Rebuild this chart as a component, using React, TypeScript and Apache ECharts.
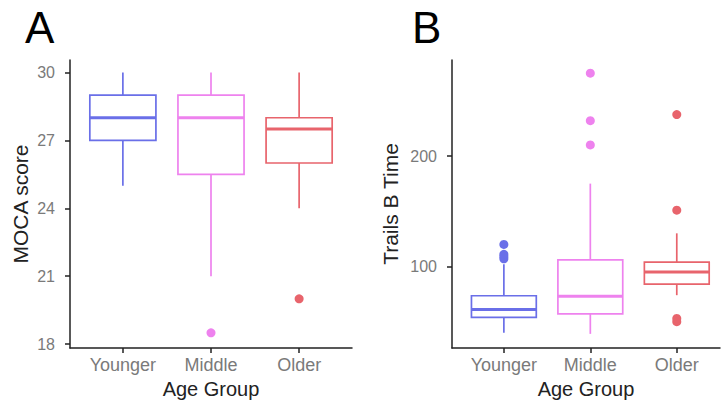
import React, { useEffect, useRef } from 'react';
import * as echarts from 'echarts';

const categories = ['Younger', 'Middle', 'Older'];
const groupColors = ['#6A6FE8', '#EE82EE', '#E8646C'];

// [min whisker, Q1, median, Q3, max whisker]
const mocaBoxes = [
  [25, 27, 28, 29, 30],
  [21, 25.5, 28, 29, 30],
  [24, 26, 27.5, 28, 30],
];
const mocaOutliers = [
  [1, 18.5],
  [2, 20],
];
const mocaTicks = [18, 21, 24, 27, 30];

const trailsBoxes = [
  [40, 54, 61, 73.5, 102],
  [39, 57, 73, 106, 175],
  [74, 84, 95, 104, 130],
];
const trailsOutliers = [
  [0, 107], [0, 109], [0, 111], [0, 120],
  [1, 210], [1, 232], [1, 275],
  [2, 50], [2, 53], [2, 151], [2, 237.5],
];
const trailsTicks = [100, 200];

const FONT = 'Liberation Sans';
const AXIS_COLOR = '#222';
const LABEL_COLOR = '#7a7a7a';

const renderBox = (params: any, api: any) => {
  const x = api.value(0);
  const lo = api.coord([x, api.value(1)]);
  const q1 = api.coord([x, api.value(2)]);
  const med = api.coord([x, api.value(3)]);
  const q3 = api.coord([x, api.value(4)]);
  const hi = api.coord([x, api.value(5)]);
  const c = groupColors[x];
  const w = api.size([0.75, 0])[0];
  const cx = lo[0];
  const thin = { stroke: c, lineWidth: 1.7, fill: 'none' };
  return {
    type: 'group',
    children: [
      { type: 'line', shape: { x1: cx, y1: hi[1], x2: cx, y2: q3[1] }, style: thin },
      { type: 'line', shape: { x1: cx, y1: q1[1], x2: cx, y2: lo[1] }, style: thin },
      {
        type: 'rect',
        shape: { x: cx - w / 2, y: q3[1], width: w, height: q1[1] - q3[1] },
        style: { fill: '#fff', stroke: c, lineWidth: 1.7 },
      },
      {
        type: 'line',
        shape: { x1: cx - w / 2, y1: med[1], x2: cx + w / 2, y2: med[1] },
        style: { stroke: c, lineWidth: 3 },
      },
    ],
  };
};

const xAxisFor = (gridIndex: number, max: number) => ({
  type: 'value',
  gridIndex,
  min: -0.6,
  max,
  splitLine: { show: false },
  axisLine: { show: true, onZero: false, lineStyle: { color: AXIS_COLOR, width: 1.5 } },
  axisTick: { show: true, length: 5, customValues: [0, 1, 2], lineStyle: { color: AXIS_COLOR, width: 1.5 } },
  axisLabel: {
    customValues: [0, 1, 2],
    formatter: (v: number) => categories[Math.round(v)] ?? '',
    color: LABEL_COLOR,
    fontSize: 18,
    fontFamily: FONT,
    margin: 8,
  },
  name: 'Age Group',
  nameLocation: 'middle',
  nameGap: 31,
  nameTextStyle: { fontSize: 20, color: AXIS_COLOR, fontFamily: FONT },
});

const yAxisFor = (gridIndex: number, min: number, max: number, ticks: number[], name: string, nameGap: number) => ({
  type: 'value',
  gridIndex,
  min,
  max,
  splitLine: { show: false },
  axisLine: { show: true, onZero: false, lineStyle: { color: AXIS_COLOR, width: 1.5 } },
  axisTick: { show: true, length: 5, customValues: ticks, lineStyle: { color: AXIS_COLOR, width: 1.5 } },
  axisLabel: {
    customValues: ticks,
    color: LABEL_COLOR,
    fontSize: 16,
    fontFamily: FONT,
    margin: 15,
  },
  name,
  nameLocation: 'middle',
  nameRotate: 90,
  nameGap,
  nameTextStyle: { fontSize: 21, color: AXIS_COLOR, fontFamily: FONT },
});

export default function App() {
  const ref = useRef<HTMLDivElement>(null);
  useEffect(() => {
    if (!ref.current) return;
    const chart = echarts.init(ref.current, null, { renderer: 'svg' });
    const outlierColor = (p: any) => groupColors[p.value[0]];
    chart.setOption({
      animation: false,
      backgroundColor: '#fff',
      grid: [
        { left: 70, top: 60, width: 282, height: 292 },
        { left: 452, top: 60, width: 268, height: 292 },
      ],
      xAxis: [xAxisFor(0, 2.6), xAxisFor(1, 2.5)],
      yAxis: [
        yAxisFor(0, 17.83, 30.55, mocaTicks, 'MOCA score', 39),
        yAxisFor(1, 26.2, 286.9, trailsTicks, 'Trails B Time', 51),
      ],
      graphic: [
        { type: 'text', left: 25, top: 5, style: { text: 'A', fontSize: 44, fontFamily: FONT, fill: '#000' } },
        { type: 'text', left: 412, top: 5, style: { text: 'B', fontSize: 44, fontFamily: FONT, fill: '#000' } },
      ],
      series: [
        {
          type: 'custom',
          xAxisIndex: 0,
          yAxisIndex: 0,
          renderItem: renderBox,
          encode: { x: 0, y: [1, 2, 3, 4, 5] },
          data: mocaBoxes.map((b, i) => [i, ...b]),
        },
        {
          type: 'scatter',
          xAxisIndex: 0,
          yAxisIndex: 0,
          symbolSize: 9,
          itemStyle: { color: outlierColor, opacity: 1 },
          data: mocaOutliers,
        },
        {
          type: 'custom',
          xAxisIndex: 1,
          yAxisIndex: 1,
          renderItem: renderBox,
          encode: { x: 0, y: [1, 2, 3, 4, 5] },
          data: trailsBoxes.map((b, i) => [i, ...b]),
        },
        {
          type: 'scatter',
          xAxisIndex: 1,
          yAxisIndex: 1,
          symbolSize: 9,
          itemStyle: { color: outlierColor, opacity: 1 },
          data: trailsOutliers,
        },
      ],
    });
    return () => chart.dispose();
  }, []);
  return (
    <div
      ref={ref}
      style={{ position: 'fixed', left: 0, top: 0, width: 721, height: 404, background: '#fff' }}
    />
  );
}
